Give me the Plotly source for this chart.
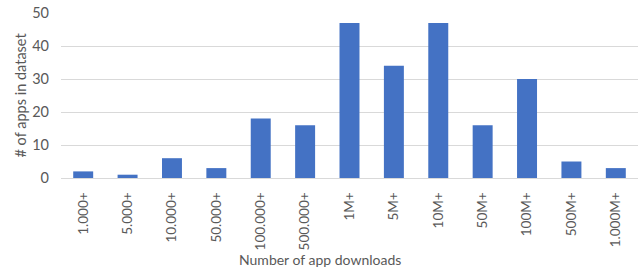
import plotly.graph_objects as go

categories = ["1.000+", "5.000+", "10.000+", "50.000+", "100.000+", "500.000+",
              "1M+", "5M+", "10M+", "50M+", "100M+", "500M+", "1.000M+"]
counts = [2, 1, 6, 3, 18, 16, 47, 34, 47, 16, 30, 5, 3]
y_ticks = [0, 10, 20, 30, 40, 50]

font = dict(family="Lato, Open Sans, sans-serif", size=14, color="#595959")

fig = go.Figure(go.Bar(x=categories, y=counts, marker=dict(color="#4472C4", line=dict(width=0))))
fig.update_layout(
    width=642, height=273,
    margin=dict(l=61, r=4, t=13, b=95, autoexpand=False),
    paper_bgcolor="white", plot_bgcolor="white",
    bargap=0.55,
    font=font,
    showlegend=False,
    annotations=[
        dict(text="Number of app downloads", xref="paper", yref="paper",
             x=(320 - 61) / (642 - 65), y=-(259 - 178) / 165, xanchor="center", yanchor="middle",
             showarrow=False, font=dict(size=14, color="#595959")),
        dict(text="# of apps in dataset", xref="paper", yref="paper",
             x=-(61 - 20) / 577, y=0.5, xanchor="center", yanchor="middle", textangle=-90,
             showarrow=False, font=dict(size=14.5, color="#595959")),
    ],
)
fig.update_xaxes(
    tickangle=-90, showgrid=False, showline=True, linecolor="#d9d9d9", linewidth=1,
    ticks="", ticklabelstandoff=8, automargin=False,
    tickfont=dict(size=13.5),
)
fig.update_yaxes(
    range=[0, 50], tickvals=y_ticks, showgrid=True, gridcolor="#d9d9d9", gridwidth=1,
    zeroline=False, showline=False, ticks="", ticklabelstandoff=11, automargin=False,
    tickfont=dict(size=14.5),
)
fig.write_html("out.html", config={"displayModeBar": False},
               post_script="document.body.style.margin='0';document.body.style.padding='0';")
